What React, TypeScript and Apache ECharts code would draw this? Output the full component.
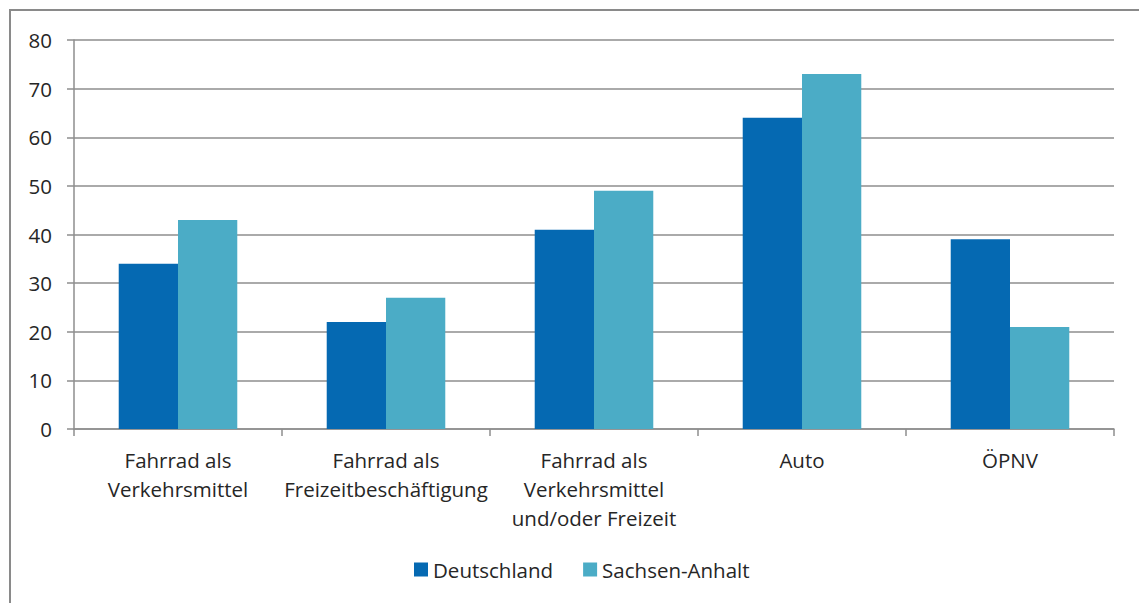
import React, { useEffect, useRef } from "react";
import * as echarts from "echarts";

const categories = [
  "Fahrrad als\nVerkehrsmittel",
  "Fahrrad als\nFreizeitbeschäftigung",
  "Fahrrad als\nVerkehrsmittel\nund/oder Freizeit",
  "Auto",
  "ÖPNV",
];
const deutschland = [34, 22, 41, 64, 39];
const sachsenAnhalt = [43, 27, 49, 73, 21];
const seriesNames = ["Deutschland", "Sachsen-Anhalt"];

const FONT = "'Open Sans', 'Noto Sans', sans-serif";
const FS = 20.5;
const TEXT_COLOR = "#262626";
const GRID_COLOR = "#8e8e8e";

export default function App() {
  const ref = useRef<HTMLDivElement>(null);

  useEffect(() => {
    document.body.style.margin = "0";
    if (!ref.current) return;
    const chart = echarts.init(ref.current, null, { renderer: "svg" });
    chart.setOption({
      animation: false,
      backgroundColor: "#ffffff",
      textStyle: { fontFamily: FONT },
      graphic: [
        {
          type: "rect",
          shape: { x: 10, y: 10, width: 1300, height: 800 },
          style: { fill: "none", stroke: "#8a8a8a", lineWidth: 2 },
          silent: true,
        },
      ],
      grid: { left: 74, right: 25, top: 40, bottom: 174 },
      legend: {
        bottom: 18,
        left: 409,
        itemWidth: 14,
        itemHeight: 14,
        itemGap: 30,
        icon: "rect",
        textStyle: { fontFamily: FONT, fontSize: FS, color: TEXT_COLOR },
        data: seriesNames,
      },
      xAxis: {
        type: "category",
        data: categories,
        axisLine: { show: true, lineStyle: { color: GRID_COLOR, width: 1.5 } },
        axisTick: { show: true, length: 7, lineStyle: { color: GRID_COLOR, width: 1.5 } },
        axisLabel: {
          interval: 0,
          margin: 16,
          fontFamily: FONT,
          fontSize: FS,
          lineHeight: 29,
          color: TEXT_COLOR,
        },
      },
      yAxis: {
        type: "value",
        min: 0,
        max: 80,
        interval: 10,
        axisLine: { show: true, lineStyle: { color: GRID_COLOR, width: 1.5 } },
        axisTick: { show: true, length: 7, lineStyle: { color: GRID_COLOR, width: 1.5 } },
        splitLine: { show: true, lineStyle: { color: GRID_COLOR, width: 1.5 } },
        axisLabel: { margin: 22, fontFamily: FONT, fontSize: FS, color: TEXT_COLOR },
      },
      series: [
        {
          name: seriesNames[0],
          type: "bar",
          data: deutschland,
          itemStyle: { color: "#0569b2" },
          barGap: "0%",
          barCategoryGap: "43%",
        },
        {
          name: seriesNames[1],
          type: "bar",
          data: sachsenAnhalt,
          itemStyle: { color: "#4bacc6" },
          barGap: "0%",
          barCategoryGap: "43%",
        },
      ],
    });
    return () => chart.dispose();
  }, []);

  return <div ref={ref} style={{ width: 1139, height: 603 }} />;
}
